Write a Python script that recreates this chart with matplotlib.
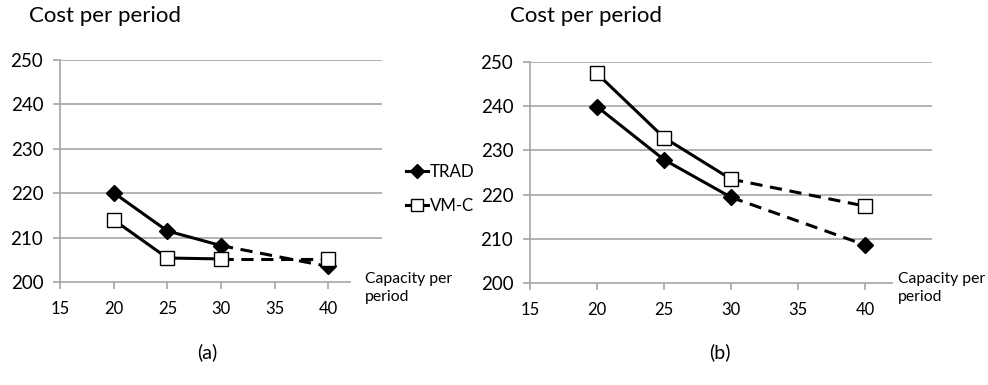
import numpy as np
import matplotlib
matplotlib.use("Agg")
import matplotlib.pyplot as plt
from matplotlib.lines import Line2D

plt.rcParams['font.family'] = ['Lato', 'DejaVu Sans']

# capacity per period
capacity = [20, 25, 30, 40]

# panel (a)
trad_a = [220.1, 211.5, 208.2, 203.5]
vmc_a = [214.0, 205.4, 205.2, 205.2]

# panel (b)
trad_b = [239.9, 227.9, 219.4, 208.6]
vmc_b = [247.4, 232.9, 223.5, 217.4]

xticks = [15, 20, 25, 30, 35, 40]
yticks = [200, 210, 220, 230, 240, 250]

W, H = 988, 385
fig = plt.figure(figsize=(W / 100, H / 100), dpi=100)


def px_axes(x0, x1, ytop, ybot):
    return fig.add_axes([x0 / W, (H - ybot) / H, (x1 - x0) / W, (ybot - ytop) / H])


def draw_panel(ax, trad, vmc, title_x, label, label_x, cap_x):
    grid_c = '#a6a6a6'
    ax.set_xlim(15, 45)
    ax.set_ylim(200, 250)
    ax.set_xticks(xticks)
    ax.set_yticks(yticks)
    for y in yticks[1:]:
        ax.axhline(y, color=grid_c, lw=1.2, zorder=1)
    for s in ['top', 'right']:
        ax.spines[s].set_visible(False)
    ax.spines['left'].set_color(grid_c)
    ax.spines['bottom'].set_color(grid_c)
    ax.spines['left'].set_linewidth(1.2)
    ax.spines['bottom'].set_linewidth(1.2)
    ax.spines['bottom'].set_bounds(15, 42)
    ax.tick_params(axis='both', color=grid_c, width=1.2, length=5, direction='out')
    ax.tick_params(axis='y', labelsize=13.5, pad=7)
    ax.tick_params(axis='x', labelsize=12, pad=9)

    # solid part then dashed extension
    for vals, mk, fc, ms in [(trad, 'D', 'black', 8), (vmc, 's', 'white', 10)]:
        ax.plot(capacity[:3], vals[:3], color='black', lw=2.2, zorder=3)
        ax.plot(capacity[2:], vals[2:], color='black', lw=2.2, ls=(0, (4, 2.5)), zorder=3)
        ax.plot(capacity, vals, ls='none', marker=mk, ms=ms, mfc=fc, mec='black',
                mew=1.0, zorder=4)

    fig.text(title_x / W, (H - 22) / H, 'Cost per period', fontsize=16,
             ha='left', va='baseline')
    fig.text(cap_x / W, (H - 288) / H, 'Capacity per\nperiod', fontsize=11.3,
             ha='left', va='center', linespacing=1.35)
    fig.text(label_x / W, (H - 352) / H, label, fontsize=14, ha='center', va='center')


ax1 = px_axes(60, 382, 60, 282)
draw_panel(ax1, trad_a, vmc_a, 29, '(a)', 207, 365)

ax2 = px_axes(530, 932, 62, 283)
draw_panel(ax2, trad_b, vmc_b, 510, '(b)', 720, 898)

handles = [
    Line2D([], [], color='black', lw=2.2, marker='D', ms=7, mfc='black', mec='black'),
    Line2D([], [], color='black', lw=2.2, marker='s', ms=9, mfc='white', mec='black', mew=1.0),
]
fig.legend(handles, ['TRAD', 'VM-C'], loc='center left',
           bbox_to_anchor=(391 / W, 1 - 189 / H), frameon=False, fontsize=12.2,
           handlelength=1.3, handletextpad=0.1, labelspacing=1.05)

fig.savefig('out.png', dpi=100)
